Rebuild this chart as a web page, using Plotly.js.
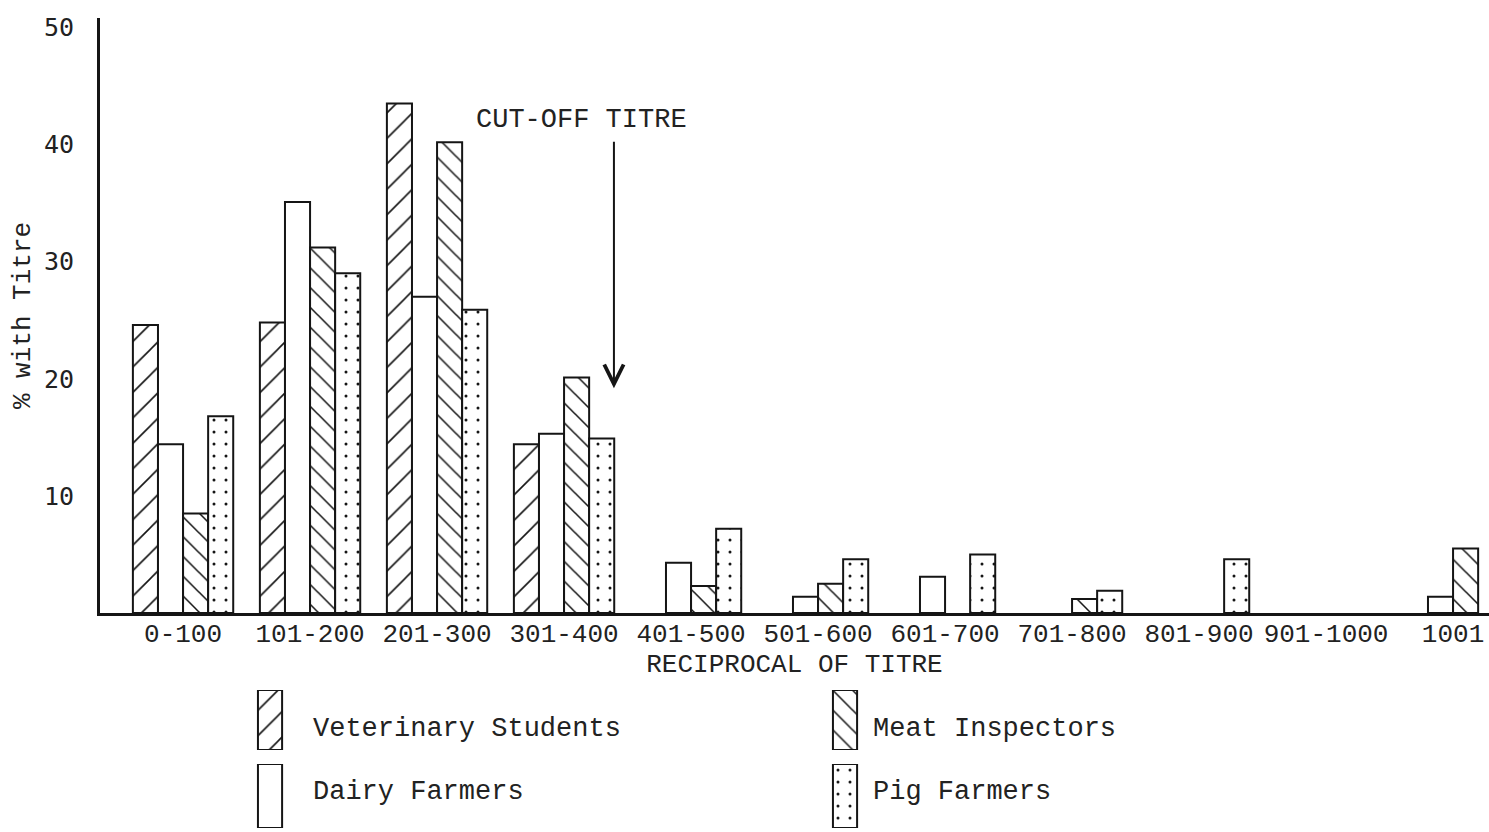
<!DOCTYPE html>
<html>
<head>
<meta charset="utf-8">
<script src="https://cdn.plot.ly/plotly-3.0.1.min.js"></script>
<style>
html,body{margin:0;padding:0;background:#fff;}
#chart{width:1489px;height:832px;}
</style>
</head>
<body>
<div id="chart"></div>
<script>
// ---------- data ----------
const categories = ['0-100','101-200','201-300','301-400','401-500','501-600','601-700','701-800','801-900','901-1000','1001'];
const seriesNames = ['Veterinary Students','Dairy Farmers','Meat Inspectors','Pig Farmers'];
const vetStudents    = [24.6, 24.8, 43.5, 14.4, null, null, null, null, null, null, null];
const dairyFarmers   = [14.4, 35.1, 27.0, 15.3, 4.3, 1.4, 3.1, null, null, null, 1.4];
const meatInspectors = [8.5, 31.2, 40.2, 20.1, 2.3, 2.5, null, 1.2, null, null, 5.5];
const pigFarmers     = [16.8, 29.0, 25.9, 14.9, 7.2, 4.6, 5.0, 1.9, 4.6, null, null];
const yTickValues = [10, 20, 30, 40, 50];
const yTickLabels = ['10', '20', '30', '40', '50'];
const annotationText = 'CUT-OFF TITRE';
const xTitle = 'RECIPROCAL OF TITRE';
const yTitle = '% with Titre';

// ---------- styles ----------
const ink = '#151515';
const mono = '"Liberation Mono", "DejaVu Sans Mono", monospace';
const patternStyles = [
  {shape: '/', size: 18, solidity: 0.09},
  {shape: ''},
  {shape: '\\', size: 14, solidity: 0.11},
  {shape: '.', size: 12, solidity: 0.05}
];
const seriesValues = [vetStudents, dairyFarmers, meatInspectors, pigFarmers];

function markerFor(i) {
  const p = Object.assign({fgcolor: ink, bgcolor: '#fff', fillmode: 'replace'}, patternStyles[i]);
  return {color: '#fff', line: {color: ink, width: 2}, pattern: p};
}

const traces = seriesNames.map((name, i) => ({
  type: 'bar',
  name: name,
  x: categories,
  y: seriesValues[i],
  marker: markerFor(i),
  showlegend: false,
  hovertemplate: name + '<br>%{x}: %{y}%<extra></extra>'
}));

// legend swatches drawn as bars in two small subplots (rows)
const legendRows = [[0, 2], [1, 3]];
legendRows.forEach((row, r) => {
  row.forEach(i => {
    traces.push({
      type: 'bar',
      x: [seriesNames[i]],
      y: [1],
      width: [0.042],
      offset: [-0.021],
      xaxis: r === 0 ? 'x2' : 'x3',
      yaxis: r === 0 ? 'y2' : 'y3',
      marker: markerFor(i),
      showlegend: false,
      hoverinfo: 'skip'
    });
  });
});

const legendTextPos = [
  {i: 0, x: 0.1518, y: 0.127},
  {i: 2, x: 0.5550, y: 0.127},
  {i: 1, x: 0.1518, y: 0.0496},
  {i: 3, x: 0.5550, y: 0.0496}
];

const annotations = legendTextPos.map(p => ({
  xref: 'paper', yref: 'paper', x: p.x, y: p.y,
  xanchor: 'left', yanchor: 'middle',
  text: seriesNames[p.i], showarrow: false,
  font: {family: mono, size: 27, color: '#222'}
}));

annotations.push({
  xref: 'paper', yref: 'y', x: 0.3463, y: 42.1,
  xanchor: 'center', yanchor: 'middle',
  text: annotationText, showarrow: false,
  font: {family: mono, size: 27, color: '#222'}
});
annotations.push({
  xref: 'paper', yref: 'y', x: 0.370, y: 19.2,
  text: '', showarrow: true,
  axref: 'pixel', ayref: 'pixel', ax: 0, ay: -248,
  arrowhead: 5, arrowsize: 1.9, arrowwidth: 2, arrowcolor: ink
});

const layout = {
  width: 1489, height: 832,
  margin: {l: 100, r: 0, t: 18, b: 0, autoexpand: false},
  paper_bgcolor: '#fff', plot_bgcolor: '#fff',
  barmode: 'group', bargap: 0.21, bargroupgap: 0,
  showlegend: false,
  font: {family: mono, color: '#222'},
  xaxis: {
    domain: [0, 1], anchor: 'y',
    type: 'category', categoryorder: 'array', categoryarray: categories,
    range: [-0.654, 10.283],
    showline: true, linecolor: ink, linewidth: 2.5,
    showgrid: false, zeroline: false, ticks: '', tickangle: 0,
    ticklabelstandoff: -5,
    tickfont: {family: mono, size: 26, color: '#222'},
    title: {text: xTitle, font: {family: mono, size: 26, color: '#222'}, standoff: 2},
    automargin: false, fixedrange: true
  },
  yaxis: {
    domain: [0.2690, 1], anchor: 'x',
    range: [0, 50.8],
    tickvals: yTickValues, ticktext: yTickLabels,
    showline: true, linecolor: ink, linewidth: 3,
    showgrid: false, zeroline: false, ticks: '',
    ticklabelstandoff: 18,
    tickfont: {family: '"DejaVu Sans Mono", monospace', size: 25, color: '#222'},
    title: {text: yTitle, font: {family: mono, size: 26, color: '#222'}, standoff: 6},
    automargin: false, fixedrange: true
  },
  xaxis2: {
    domain: [0, 1], anchor: 'y2', type: 'category', categoryorder: 'array',
    categoryarray: [seriesNames[0], seriesNames[2]],
    range: [-0.2957, 2.12], visible: false, fixedrange: true
  },
  yaxis2: {domain: [0.1007, 0.1744], anchor: 'x2', range: [0, 1], visible: false, fixedrange: true},
  xaxis3: {
    domain: [0, 1], anchor: 'y3', type: 'category', categoryorder: 'array',
    categoryarray: [seriesNames[1], seriesNames[3]],
    range: [-0.2957, 2.12], visible: false, fixedrange: true
  },
  yaxis3: {domain: [0.0049, 0.0835], anchor: 'x3', range: [0, 1], visible: false, fixedrange: true},
  annotations: annotations
};

Plotly.newPlot('chart', traces, layout, {displayModeBar: false});
</script>
</body>
</html>
